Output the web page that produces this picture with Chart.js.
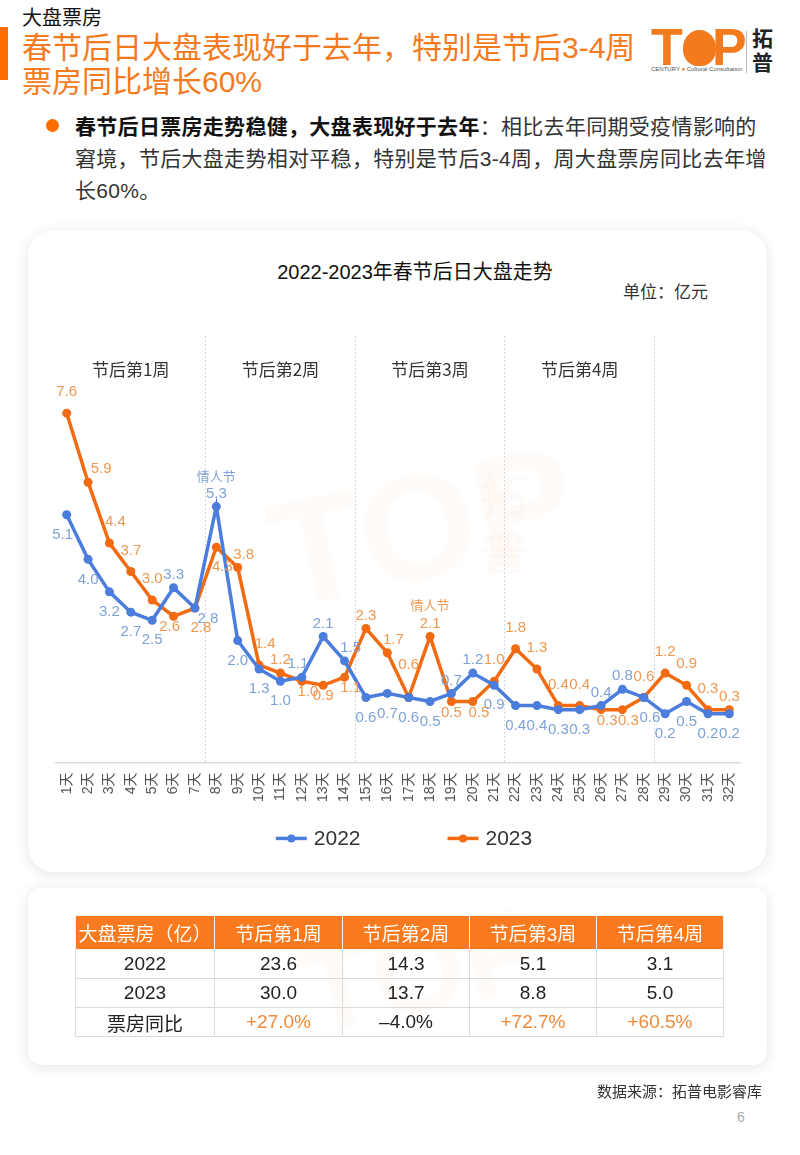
<!DOCTYPE html>
<html>
<head>
<meta charset="utf-8">
<script src="https://cdn.jsdelivr.net/npm/chart.js@4.4.1/dist/chart.umd.min.js"></script>
<style>
  body { margin: 0; width: 800px; height: 1155px; background: #fff; position: relative; overflow: hidden;
         font-family: "Liberation Sans", "Noto Sans CJK SC", sans-serif; color: #222; }
  .abs { position: absolute; }
  #sec { left: 22px; top: 5px; font-size: 20px; line-height: 26px; color: #111; }
  #bar { left: 0; top: 27px; width: 8px; height: 53px; background: #ff6c00; }
  #title { left: 22px; top: 31px; font-size: 30px; line-height: 34px; color: #f47a1e; white-space: nowrap; }
  #bullet { left: 46px; top: 119px; width: 13px; height: 13px; border-radius: 50%; background: #ff6c00; }
  #body { left: 75px; top: 111px; font-size: 21px; line-height: 32px; color: #333; white-space: nowrap; letter-spacing: 0.3px; }
  #body b { color: #111; }
  .logoL { font-weight: bold; font-size: 52px; line-height: 52px; color: #f47a1e; }
  #logoO { left: 683px; top: 30px; width: 33px; height: 36px; border-radius: 50% 50% 45% 45%; background: #f47a1e; }
  #logoSep { left: 746px; top: 31px; width: 1px; height: 42px; background: #bbb; }
  #logoZh { left: 752px; top: 27px; font-size: 21px; line-height: 24px; font-weight: bold; color: #222; }
  #logoSub { left: 651px; top: 66px; font-size: 6px; color: #555; white-space: nowrap; }
  .card { background: #fff; box-shadow: 0 2px 14px rgba(0,0,0,0.11); }
  #card1 { left: 28px; top: 230px; width: 739px; height: 642px; border-radius: 26px; }
  #card2 { left: 28px; top: 888px; width: 739px; height: 177px; border-radius: 14px; }
  #ctitle { left: 145px; top: 258px; width: 540px; text-align: center; font-size: 20px; line-height: 28px; color: #111; }
  #unit { left: 623px; top: 282px; font-size: 17px; line-height: 22px; color: #333; }
  #wrap { left: 28px; top: 300px; width: 740px; height: 570px; }
  .wm { color: rgba(244,122,30,0.03); font-weight: bold; white-space: nowrap; }
  #tbl { left: 75px; top: 915px; border-collapse: collapse; font-size: 19px; color: #222; }
  #tbl td { border: 1.5px solid #dadada; text-align: center; padding: 0; }
  #tbl tr.hd td { background: #f97a1f; color: #fff; height: 33px; border-color: #f3f3f3; }
  #tbl tr.rw td { height: 28px; }
  #src { left: 597px; top: 1081px; font-size: 15px; line-height: 22px; color: #333; }
  #pg { left: 737px; top: 1109px; font-size: 14px; color: #aaa; }
</style>
</head>
<body>
<div id="sec" class="abs">大盘票房</div>
<div id="bar" class="abs"></div>
<div id="title" class="abs">春节后日大盘表现好于去年，特别是节后3-4周<br>票房同比增长60%</div>

<div class="abs logoL" style="left:651px;top:21px;">T</div>
<div id="logoO" class="abs"></div>
<div class="abs logoL" style="left:712px;top:21px;">P</div>
<div id="logoSep" class="abs"></div>
<div id="logoZh" class="abs">拓<br>普</div>
<div id="logoSub" class="abs">CENTURY <span style="color:#f47a1e">●</span> Cultural Consultation</div>

<div id="bullet" class="abs"></div>
<div id="body" class="abs"><b>春节后日票房走势稳健，大盘表现好于去年</b>：相比去年同期受疫情影响的<br>窘境，节后大盘走势相对平稳，特别是节后3-4周，周大盘票房同比去年增<br>长60%。</div>

<div id="card1" class="abs card"></div>
<div class="abs wm" style="left:270px;top:440px;font-size:150px;transform:rotate(-12deg);">TOP</div>
<div class="abs wm" style="left:480px;top:470px;font-size:48px;line-height:56px;">拓<br>普</div>
<div id="ctitle" class="abs">2022-2023年春节后日大盘走势</div>
<div id="unit" class="abs">单位：亿元</div>
<div id="wrap" class="abs"><canvas id="trend"></canvas></div>

<div id="card2" class="abs card"></div>
<div class="abs wm" style="left:300px;top:900px;font-size:120px;transform:rotate(-12deg);">TOP</div>
<table id="tbl" class="abs"></table>
<div id="src" class="abs">数据来源：拓普电影睿库</div>
<div id="pg" class="abs">6</div>

<script>
// days after the Spring Festival
const days = ['1天','2天','3天','4天','5天','6天','7天','8天','9天','10天','11天','12天','13天','14天','15天','16天',
              '17天','18天','19天','20天','21天','22天','23天','24天','25天','26天','27天','28天','29天','30天','31天','32天'];
const weekNames = ['节后第1周', '节后第2周', '节后第3周', '节后第4周'];
const weekLen = 7;

// daily box office, 亿元
const box2022 = [5.1, 4.0, 3.2, 2.7, 2.5, 3.3, 2.8, 5.3, 2.0, 1.3, 1.0, 1.1, 2.1, 1.5, 0.6, 0.7,
                 0.6, 0.5, 0.7, 1.2, 0.9, 0.4, 0.4, 0.3, 0.3, 0.4, 0.8, 0.6, 0.2, 0.5, 0.2, 0.2];
const box2023 = [7.6, 5.9, 4.4, 3.7, 3.0, 2.6, 2.8, 4.3, 3.8, 1.4, 1.2, 1.0, 0.9, 1.1, 2.3, 1.7,
                 0.6, 2.1, 0.5, 0.5, 1.0, 1.8, 1.3, 0.4, 0.4, 0.3, 0.3, 0.6, 1.2, 0.9, 0.3, 0.3];
const seriesNames = ['2022', '2023'];

// 情人节 markers: [series, day index]
const notes = [[0, 7, '情人节'], [1, 17, '情人节']];

// weekly table
const tableHead = ['大盘票房（亿）', '节后第1周', '节后第2周', '节后第3周', '节后第4周'];
const week2022 = ['23.6', '14.3', '5.1', '3.1'];
const week2023 = ['30.0', '13.7', '8.8', '5.0'];
const weekYoY = ['+27.0%', '–4.0%', '+72.7%', '+60.5%'];

// where each value label sits relative to its point (a/A above, b/B below, r/R/l nudges)
const place2022 = ['bl','b','b','b','b','A','BR','A','b','b','b','Al','A','Ar','b','b',
                   'b','b','A','A','b','b','b','b','b','A','A','br','b','b','b','b'];
const place2023 = ['a','AR','ar','a','a','Bl','br','br','Ar','ar','A','Br','B','Br','A','Ar',
                   'H','A','B','Br','a','a','a','a','a','Br','Br','a','a','a','a','A'];

const BLUE = '#4a7ddc', ORANGE = '#f26b12';
const LBL_BLUE = '#7ea2d8', LBL_ORANGE = '#ef9850';

// table
(function () {
  const t = document.getElementById('tbl');
  const widths = [138, 127, 126, 126, 126];
  let html = '<tr class="hd">' + tableHead.map((h, i) => `<td style="width:${widths[i]}px">${h}</td>`).join('') + '</tr>';
  html += '<tr class="rw"><td>2022</td>' + week2022.map(v => `<td>${v}</td>`).join('') + '</tr>';
  html += '<tr class="rw"><td>2023</td>' + week2023.map(v => `<td>${v}</td>`).join('') + '</tr>';
  html += '<tr class="rw"><td>票房同比</td>' + weekYoY.map(v => `<td style="color:${v[0] === '+' ? '#f08a3a' : '#222'}">${v}</td>`).join('') + '</tr>';
  t.innerHTML = html;
})();

const offs = { a: -21, A: -13, b: 20, B: 11, H: -33 };
const nudge = { r: 6, R: 13, l: -4 };

const valueLabels = {
  id: 'valueLabels',
  afterDatasetsDraw(chart) {
    const ctx = chart.ctx;
    ctx.save();
    ctx.textAlign = 'center';
    ctx.textBaseline = 'middle';
    const places = [place2022, place2023];
    const colors = [LBL_BLUE, LBL_ORANGE];
    chart.data.datasets.forEach((ds, di) => {
      const meta = chart.getDatasetMeta(di);
      meta.data.forEach((pt, i) => {
        const code = places[di][i] || 'a';
        const dy = offs[code[0]];
        const dx = code[1] ? nudge[code[1]] : 0;
        ctx.font = '15px "Liberation Sans", sans-serif';
        ctx.fillStyle = colors[di];
        ctx.fillText(ds.data[i].toFixed(1), pt.x + dx, pt.y + dy);
      });
    });
    notes.forEach(([di, i, txt]) => {
      const pt = chart.getDatasetMeta(di).data[i];
      const code = places[di][i];
      const dy = offs[code[0]];
      ctx.font = '13px "Noto Sans CJK SC", sans-serif';
      ctx.fillStyle = colors[di];
      ctx.fillText(txt, pt.x, pt.y + dy - 18);
    });
    ctx.restore();
  }
};

const weekHeads = {
  id: 'weekHeads',
  beforeDatasetsDraw(chart) {
    const ctx = chart.ctx, x = chart.scales.x;
    ctx.save();
    ctx.font = '17px "Noto Sans CJK SC", sans-serif';
    ctx.fillStyle = '#333';
    ctx.textAlign = 'center';
    ctx.textBaseline = 'middle';
    weekNames.forEach((w, k) => {
      const cx = (x.getPixelForValue(k * weekLen) + x.getPixelForValue(k * weekLen + weekLen - 1)) / 2;
      ctx.fillText(w, cx, chart.chartArea.top + 34);
    });
    ctx.restore();
  }
};

const lineLegend = {
  id: 'lineLegend',
  afterDraw(chart) {
    const ctx = chart.ctx;
    ctx.save();
    ctx.font = '21px "Liberation Sans", sans-serif';
    ctx.textBaseline = 'middle';
    const mark = 31, gap = 7, between = 87;
    const items = chart.data.datasets.map(d => ({ label: d.label, color: d.borderColor, w: mark + gap + ctx.measureText(d.label).width }));
    const total = items.reduce((s, it) => s + it.w, 0) + between * (items.length - 1);
    let x = chart.width / 2 + 6 - total / 2;
    const y = chart.chartArea.bottom + 76;
    items.forEach(it => {
      ctx.strokeStyle = it.color;
      ctx.lineWidth = 3.5;
      ctx.beginPath(); ctx.moveTo(x, y); ctx.lineTo(x + mark, y); ctx.stroke();
      ctx.fillStyle = it.color;
      ctx.beginPath(); ctx.arc(x + mark / 2, y, 4, 0, Math.PI * 2); ctx.fill();
      ctx.fillStyle = '#333';
      ctx.fillText(it.label, x + mark + gap, y + 1);
      x += it.w + between;
    });
    ctx.restore();
  }
};

const weekEdges = [7, 14, 21, 28];

new Chart(document.getElementById('trend'), {
  type: 'line',
  data: {
    labels: days,
    datasets: [
      { label: seriesNames[0], data: box2022, borderColor: BLUE, backgroundColor: BLUE },
      { label: seriesNames[1], data: box2023, borderColor: ORANGE, backgroundColor: ORANGE }
    ]
  },
  options: {
    responsive: true,
    maintainAspectRatio: false,
    animation: false,
    layout: { padding: { left: 28, right: 28, top: 36, bottom: 58 } },
    elements: {
      line: { borderWidth: 3.5, tension: 0 },
      point: { radius: 4.5, borderWidth: 0, hoverRadius: 5 }
    },
    plugins: { legend: { display: false }, tooltip: { enabled: false } },
    scales: {
      y: { display: false, min: -1, max: 9.5 },
      x: {
        offset: true,
        grid: {
          offset: true,
          drawTicks: false,
          lineWidth: 1,
          color: c => weekEdges.includes(c.index) ? '#d6d6d6' : 'rgba(0,0,0,0)'
        },
        border: { display: true, color: '#dadada', width: 1.5, dash: [2, 2] },
        ticks: {
          autoSkip: false, minRotation: 90, maxRotation: 90, padding: 10,
          color: '#555', font: { size: 14, family: '"Liberation Sans", "Noto Sans CJK SC", sans-serif' }
        }
      }
    }
  },
  plugins: [weekHeads, valueLabels, lineLegend]
});
</script>
</body>
</html>
